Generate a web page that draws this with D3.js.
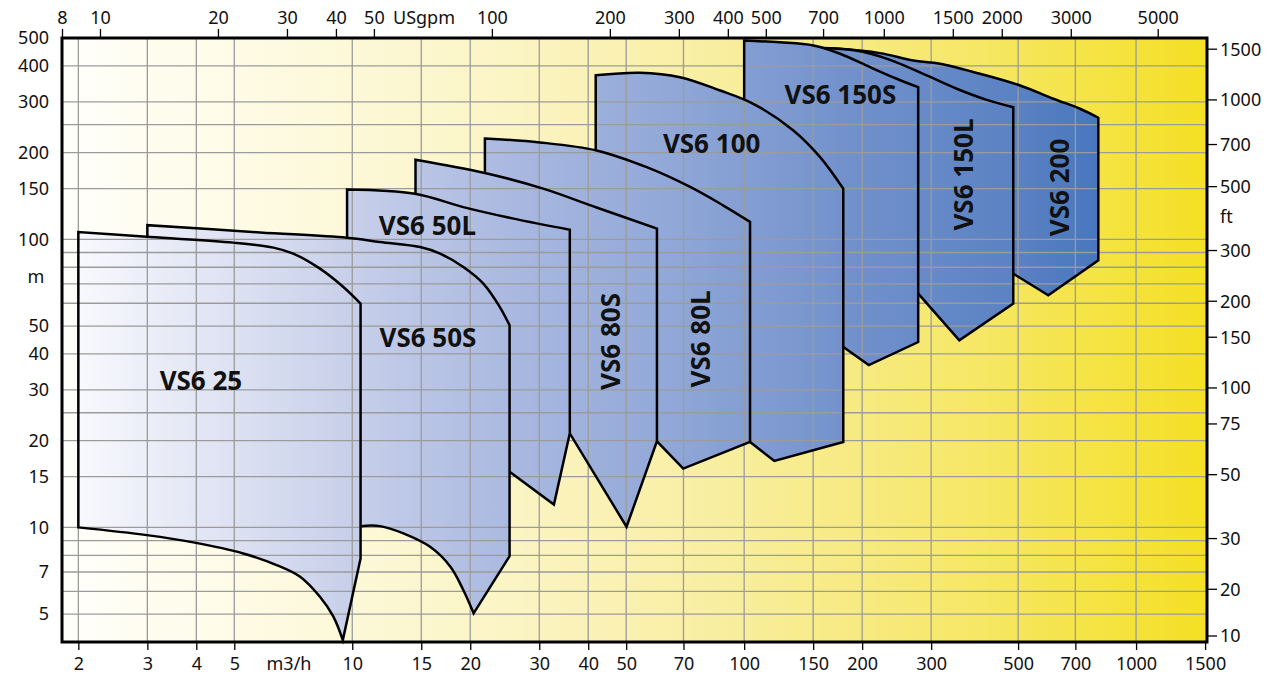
<!DOCTYPE html>
<html>
<head>
<meta charset="utf-8">
<script src="https://cdn.jsdelivr.net/npm/d3@7"></script>
<style>
  html, body { margin: 0; padding: 0; background: #fff; }
  svg text { font-family: "Noto Sans", sans-serif; fill: #111; }
  .axis text { font-size: 18px; }
  .lbl { font-size: 26px; font-weight: bold; }
</style>
</head>
<body>
<svg id="chart" width="1276" height="680"></svg>
<script>
// tick values
const flowTicks = [2, 3, 4, 5, 10, 15, 20, 30, 40, 50, 70, 100, 150, 200, 300, 500, 700, 1000, 1500];
const gpmTicks = [8, 10, 20, 30, 40, 50, 100, 200, 300, 400, 500, 700, 1000, 1500, 2000, 3000, 5000];
const headTicks = [500, 400, 300, 200, 150, 100, 50, 40, 30, 20, 15, 10, 7, 5];
const ftTicks = [1500, 1000, 700, 500, 300, 200, 150, 100, 75, 50, 30, 20, 10];
const flowGrid = [2, 3, 4, 5, 10, 15, 20, 30, 40, 50, 70, 100, 150, 200, 300, 500, 700, 1000];
const headGrid = [400, 300, 250, 200, 150, 100, 90, 80, 70, 60, 50, 40, 30, 25, 20, 15, 10, 9, 8, 7, 6, 5];

// pump envelopes, [m3/h, m]; each run is one smooth stroke, runs meet at corners
const vs6_25 = [
  [[2, 10], [2, 106]],
  [[2, 106], [3.05, 101.8], [4.97, 97.4], [6.29, 93.6], [7.07, 89.2], [8.27, 79.1], [9.49, 68.3], [10.5, 59.8]],
  [[10.5, 59.8], [10.5, 7.8]],
  [[10.5, 7.8], [9.46, 4.06]],
  [[9.46, 4.06], [8.95, 4.9], [8.27, 5.74], [7.36, 6.74], [6.41, 7.4], [5.27, 8.12], [3.93, 8.87], [2.99, 9.4], [2, 10]]
];
const vs6_50S = [
  [[3, 10], [3, 112]],
  [[3, 112], [5.82, 105.7], [9.68, 101.3], [11.77, 97.9], [14.9, 94], [16.75, 89.2], [19.2, 80.2], [21.6, 70.2], [23.8, 58.2], [25.2, 50.3]],
  [[25.2, 50.3], [25.2, 7.95]],
  [[25.2, 7.95], [20.4, 5.03]],
  [[20.4, 5.03], [19.2, 6.06], [17.8, 7.3], [15.8, 8.56], [13.5, 9.53], [11.77, 10.1], [10.5, 10.1]],
  [[10.5, 10.1], [3, 10]]
];
const vs6_50L = [
  [[9.7, 15.6], [9.7, 149]],
  [[9.7, 149], [14.46, 144], [19.2, 129.4], [25.8, 118], [35.9, 108]],
  [[35.9, 108], [35.9, 21.2]],
  [[35.9, 21.2], [32.7, 12]],
  [[32.7, 12], [25.2, 15.6]],
  [[25.2, 15.6], [9.7, 15.6]]
];
const vs6_80S = [
  [[14.5, 21.2], [14.5, 189]],
  [[14.5, 189], [21.8, 170], [30.7, 150], [42, 129], [59.9, 109]],
  [[59.9, 109], [59.9, 19.9]],
  [[59.9, 19.9], [50.1, 10.05]],
  [[50.1, 10.05], [35.9, 21.2]],
  [[35.9, 21.2], [14.5, 21.2]]
];
const vs6_80L = [
  [[21.8, 22], [21.8, 224]],
  [[21.8, 224], [30.1, 217], [42, 203.5], [56.4, 178], [72.8, 152], [88.5, 131], [103.5, 115]],
  [[103.5, 115], [103.5, 19.8]],
  [[103.5, 19.8], [69.9, 16]],
  [[69.9, 16], [59.9, 19.9]],
  [[59.9, 19.9], [21.8, 22]]
];
const vs6_100 = [
  [[41.8, 21], [41.8, 371]],
  [[41.8, 371], [54.2, 378.5], [68.6, 365.5], [86.8, 328.6], [105.5, 295.5], [133.5, 238.8], [156.2, 193], [179, 150]],
  [[179, 150], [179, 19.8]],
  [[179, 19.8], [119.4, 17]],
  [[119.4, 17], [103.5, 19.8]],
  [[103.5, 19.8], [41.8, 21]]
];
const vs6_150S = [
  [[100, 42.3], [100, 490]],
  [[100, 490], [123.4, 483], [150.2, 471], [175.7, 441], [209.5, 396], [245, 361], [278, 337.5]],
  [[278, 337.5], [278, 44]],
  [[278, 44], [208, 36.6]],
  [[208, 36.6], [179, 42.3]],
  [[179, 42.3], [100, 42.3]]
];
const vs6_150L = [
  [[140, 64.8], [140, 463]],
  [[140, 463], [197.5, 450], [235.6, 420], [286.5, 375.5], [348.6, 333.3], [415.8, 305], [486, 287.6]],
  [[486, 287.6], [486, 59.8]],
  [[486, 59.8], [354, 44.6]],
  [[354, 44.6], [278, 64.8]],
  [[278, 64.8], [140, 64.8]]
];
const vs6_200 = [
  [[151.6, 76], [151.6, 461.5]],
  [[151.6, 461.5], [175.7, 458.5], [222, 443], [270, 417.7], [316, 407], [400, 375.5], [506, 342], [615, 307.6], [719.5, 284], [801, 264.3]],
  [[801, 264.3], [801, 84.6]],
  [[801, 84.6], [597, 63.9]],
  [[597, 63.9], [486, 76]],
  [[486, 76], [151.6, 76]]
];

// back to front
const shapes = [vs6_200, vs6_150L, vs6_150S, vs6_100, vs6_80L, vs6_80S, vs6_50L, vs6_50S, vs6_25];

const labelNames = ['VS6 25', 'VS6 50S', 'VS6 50L', 'VS6 80S', 'VS6 80L', 'VS6 100', 'VS6 150S', 'VS6 150L', 'VS6 200'];
const labelAt = [[4.11, 32.4], [15.6, 45.7], [15.55, 112], [45.6, 44.2], [77.6, 45.1], [82.6, 214.9], [176, 317], [364, 167.8], [638.6, 151.4]];
const labelTurned = [false, false, false, true, true, false, false, true, true];

const GPM = 4.403;   // USgpm per m3/h
const FT = 0.3048;   // m per ft

const svg = d3.select('#chart');
const plotL = 62, plotR = 1207, plotT = 38, plotB = 642;

const x = d3.scaleLog().domain([8 / GPM, 1517]).range([plotL, plotR]);
const y = d3.scaleLog().domain([4, 500]).range([plotB, plotT]);
const xg = d3.scaleLog().domain(x.domain().map(d => d * GPM)).range(x.range());

const defs = svg.append('defs');

const bg = defs.append('linearGradient').attr('id', 'bg')
  .attr('gradientUnits', 'userSpaceOnUse')
  .attr('x1', plotL).attr('x2', plotR).attr('y1', 0).attr('y2', 0);
[[0, '#fffffb'], [0.15, '#fefbe6'], [0.4, '#fbf4c3'], [0.6, '#f8ed9a'], [0.8, '#f6e766'], [1, '#f4e024']]
  .forEach(s => bg.append('stop').attr('offset', s[0]).attr('stop-color', s[1]));

const blue = defs.append('linearGradient').attr('id', 'blue')
  .attr('gradientUnits', 'userSpaceOnUse')
  .attr('x1', plotL).attr('x2', plotR).attr('y1', 0).attr('y2', 0);
[[0, '#fbfbfe'], [0.26, '#c6cee9'], [0.39, '#aab9e0'], [0.52, '#93a9d8'], [0.68, '#7392cc'], [0.83, '#5b82c3'], [0.91, '#4776bd'], [1, '#3f6fba']]
  .forEach(s => blue.append('stop').attr('offset', s[0]).attr('stop-color', s[1]));

svg.append('rect')
  .attr('x', plotL).attr('y', plotT)
  .attr('width', plotR - plotL).attr('height', plotB - plotT)
  .attr('fill', 'url(#bg)');

function drawGrid(g) {
  g.selectAll('line.gx').data(flowGrid).join('line').attr('class', 'gx')
    .attr('x1', d => x(d)).attr('x2', d => x(d))
    .attr('y1', plotT).attr('y2', plotB);
  g.selectAll('line.gy').data(headGrid).join('line').attr('class', 'gy')
    .attr('x1', plotL).attr('x2', plotR)
    .attr('y1', d => y(d)).attr('y2', d => y(d));
  g.attr('stroke', '#9b9b9b').attr('stroke-width', 1.3);
}

drawGrid(svg.append('g'));

const line = d3.line()
  .x(d => x(d[0])).y(d => y(d[1]))
  .curve(d3.curveCatmullRom.alpha(0.5));

function outline(runs) {
  return runs.map((r, i) => {
    const s = line(r);
    return i ? 'L' + s.slice(1) : s;
  }).join('') + 'Z';
}

shapes.forEach((runs, i) => {
  const d = outline(runs);
  defs.append('clipPath').attr('id', 'clip' + i).append('path').attr('d', d);
  const g = svg.append('g');
  g.append('path').attr('d', d).attr('fill', 'url(#blue)');
  drawGrid(g.append('g').attr('clip-path', `url(#clip${i})`));
  g.append('path').attr('d', d)
    .attr('fill', 'none').attr('stroke', '#000')
    .attr('stroke-width', 2.5).attr('stroke-linejoin', 'miter');
});

labelNames.forEach((name, i) => {
  const px = x(labelAt[i][0]), py = y(labelAt[i][1]);
  svg.append('text').attr('class', 'lbl')
    .attr('text-anchor', 'middle').attr('dy', '0.36em')
    .attr('transform', `translate(${px},${py})` + (labelTurned[i] ? ' rotate(-90)' : ''))
    .text(name);
});

// axes
const xAxis = svg.append('g').attr('class', 'axis')
  .attr('transform', `translate(0,${plotB})`)
  .call(d3.axisBottom(x).tickValues(flowTicks).tickSize(8).tickPadding(7).tickFormat(d3.format('d')));

const gAxis = svg.append('g').attr('class', 'axis')
  .attr('transform', `translate(0,${plotT})`)
  .call(d3.axisTop(xg).tickValues(gpmTicks).tickSize(9).tickPadding(5).tickFormat(d3.format('d')));

const yAxis = svg.append('g').attr('class', 'axis')
  .attr('transform', `translate(${plotL},0)`)
  .call(d3.axisLeft(y).tickValues(headTicks).tickSize(0).tickPadding(13).tickFormat(d3.format('d')));

[xAxis, gAxis, yAxis].forEach(a => {
  a.select('.domain').remove();
  a.selectAll('.tick line').attr('stroke', '#000').attr('stroke-width', 1.3);
  a.selectAll('.tick text').attr('fill', '#111');
});

// feet axis, the 10 ft tick sits on the bottom edge
const ftPos = d => Math.min(y(d * FT), plotB - 6);
const ftAxis = svg.append('g').attr('class', 'axis');
const ft = ftAxis.selectAll('g').data(ftTicks).join('g')
  .attr('transform', d => `translate(${plotR + 1},${ftPos(d)})`);
ft.append('line').attr('x2', 9).attr('stroke', '#000').attr('stroke-width', 1.3);
ft.append('text').attr('x', 12).attr('dy', '0.36em').text(d => d);

// axis titles
svg.append('text').attr('x', 289).attr('y', 670)
  .attr('text-anchor', 'middle').style('font-size', '18px').text('m3/h');
svg.append('text').attr('x', 424).attr('y', 24)
  .attr('text-anchor', 'middle').style('font-size', '18px').text('USgpm');
svg.append('text').attr('x', 36).attr('y', y(74)).attr('dy', '0.36em')
  .attr('text-anchor', 'middle').style('font-size', '18px').text('m');
svg.append('text').attr('x', plotR + 13).attr('y', y(395 * FT)).attr('dy', '0.36em')
  .style('font-size', '18px').text('ft');

svg.append('rect')
  .attr('x', plotL).attr('y', plotT)
  .attr('width', plotR - plotL).attr('height', plotB - plotT)
  .attr('fill', 'none').attr('stroke', '#000').attr('stroke-width', 3);
</script>
</body>
</html>
